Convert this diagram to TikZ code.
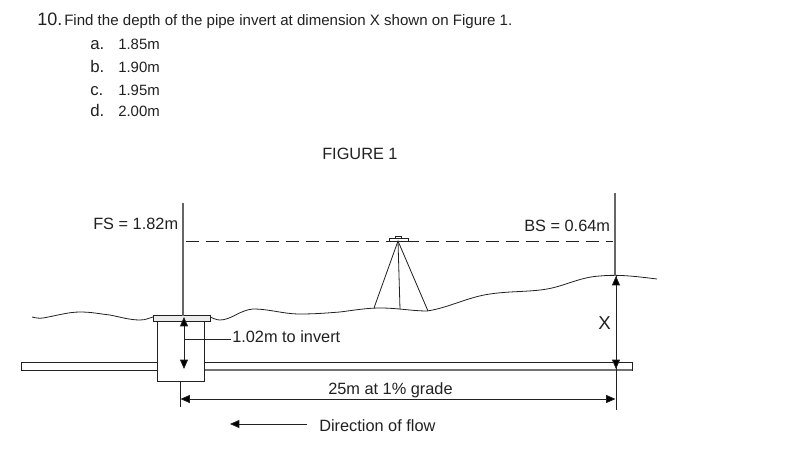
\documentclass[tikz,border=0pt]{standalone}
\usepackage{fontspec}
\setmainfont{Liberation Sans}
\usetikzlibrary{arrows.meta}
\definecolor{ink}{gray}{0.13}
\tikzset{
  x=0.75pt,y=-0.75pt,
  txt/.style={inner sep=0pt,anchor=base west,text=ink,font=\fontsize{12.25}{14}\selectfont},
  qtxt/.style={txt,font=\fontsize{11.3}{13}\selectfont},
  opt/.style={txt,font=\fontsize{11.2}{13}\selectfont},
  optl/.style={txt,font=\fontsize{12.6}{14}\selectfont},
  line/.style={draw=ink,line width=0.6pt},
  thin line/.style={draw=ink,line width=0.6pt},
  rod/.style={draw=black!60,line width=2pt},
  tip/.style={-{Triangle[length=7pt,width=6pt,fill=black]}},
  tips/.style={{Triangle[length=7pt,width=6pt,fill=black]}-{Triangle[length=7pt,width=6pt,fill=black]}},
}
\begin{document}
\begin{tikzpicture}
\useasboundingbox (0,0) rectangle (794,471);
\fill[white] (0,0) rectangle (794,471);
% question text
\node[txt,font=\fontsize{13.5}{15}\selectfont] (qn) at (37,26) {10.};
\node[qtxt] (q) at (64,26) {Find the depth of the pipe invert at dimension X shown on Figure 1.};
\node[optl] (la) at (90,49) {a.};
\node[opt] (ta) at (118,49) {1.85m};
\node[optl] (lb) at (90,72) {b.};
\node[opt] (tb) at (118,72) {1.90m};
\node[optl] (lc) at (90,95) {c.};
\node[opt] (tc) at (118,95) {1.95m};
\node[optl] (ld) at (90,116) {d.};
\node[opt] (td) at (118,116) {2.00m};
\node[txt] (fig) at (322,159) {FIGURE 1};
% named points
\coordinate (rodLt) at (183,203);
\coordinate (rodLb) at (183,316);
\coordinate (rodRt) at (615,193);
\coordinate (rodRb) at (615,276);
\coordinate (lvlL) at (186,241);
\coordinate (lvlR) at (613,241);
\coordinate (apex) at (398,241);
\coordinate (footA) at (374,308);
\coordinate (footB) at (400,309);
\coordinate (footC) at (428,311);
\coordinate (mT) at (184,317);
\coordinate (mB) at (184,369);
\coordinate (mL) at (184,339);
\coordinate (dimLt) at (180,381);
\coordinate (dimLb) at (180,407);
\coordinate (dimRt) at (616,276);
\coordinate (dimRb) at (616,410);
\coordinate (dimA) at (180.5,399);
\coordinate (dimB) at (615.5,399);
\coordinate (xB) at (616,369);
\coordinate (flowA) at (230,424);
\coordinate (flowB) at (307,424);
% ground
\draw[thin line] (32,317) .. controls (36,318) and (39,318.5) .. (43,318)
  .. controls (55,316) and (68,312) .. (80,312)
  .. controls (92,312) and (100,314) .. (110,315)
  .. controls (120,317) and (130,320) .. (140,320)
  .. controls (146,320) and (149,318) .. (153,317);
\draw[thin line] (210,317) .. controls (213,318) and (216,320) .. (220,320)
  .. controls (231,320) and (240,310) .. (253,309)
  .. controls (270,309) and (283,314) .. (300,314)
  .. controls (315,314) and (327,313) .. (340,312)
  .. controls (352,310.5) and (366,308) .. (380,308)
  .. controls (398,308) and (412,311) .. (427,311)
  .. controls (448,308) and (468,297) .. (490,294)
  .. controls (510,291) and (530,292) .. (547,289)
  .. controls (565,286) and (580,277) .. (600,276)
  .. controls (620,274) and (640,277) .. (657,279);
% pipes
\draw[line,fill=white] (157,362) -- (21,362) -- (21,370) -- (157,370);
\draw[line,fill=white] (204,362) -- (632,362) -- (632,370) -- (204,370);
\draw[draw=black!55,line width=1pt] (204,370) -- (632,370);
% manhole
\draw[line,fill=white] (157,321) rectangle (204,381);
\draw[line,fill=white!92!black] (153,315) rectangle (210,321);
% rods
\draw[rod] (rodLt) -- (rodLb);
\draw[rod] (rodRt) -- (rodRb);
% line of sight
\draw[thin line,dash pattern=on 9.4pt off 5.6pt] (lvlL) -- (lvlR);
% instrument
\draw[thin line,fill=white] (395,236) rectangle (401,238);
\draw[line,fill=white] (389,238) rectangle (408,241);
\draw[thin line] (footA) -- (apex) -- (footC);
\draw[thin line] (apex) -- (footB);
% dimensions
\draw[thin line,tips] (mT) -- (mB);
\draw[thin line] (mL) -- (231,339);
\draw[thin line] (dimLt) -- (dimLb);
\draw[thin line] (dimRt) -- (dimRb);
\draw[thin line,tips] (dimA) -- (dimB);
\draw[thin line,tips] (dimRt) -- (xB);
\draw[thin line,tip] (flowB) -- (flowA);
% labels
\node[txt] (fs) at (93,229) {FS = 1.82m};
\node[txt] (bs) at (524,231) {BS = 0.64m};
\node[txt] (inv) at (232,342) {1.02m to invert};
\node[txt,font=\fontsize{14}{15}\selectfont] (x) at (598,329) {X};
\node[txt] (grade) at (328,394) {25m at 1\% grade};
\node[txt] (dir) at (319,431) {Direction of flow};
\end{tikzpicture}
\end{document}
